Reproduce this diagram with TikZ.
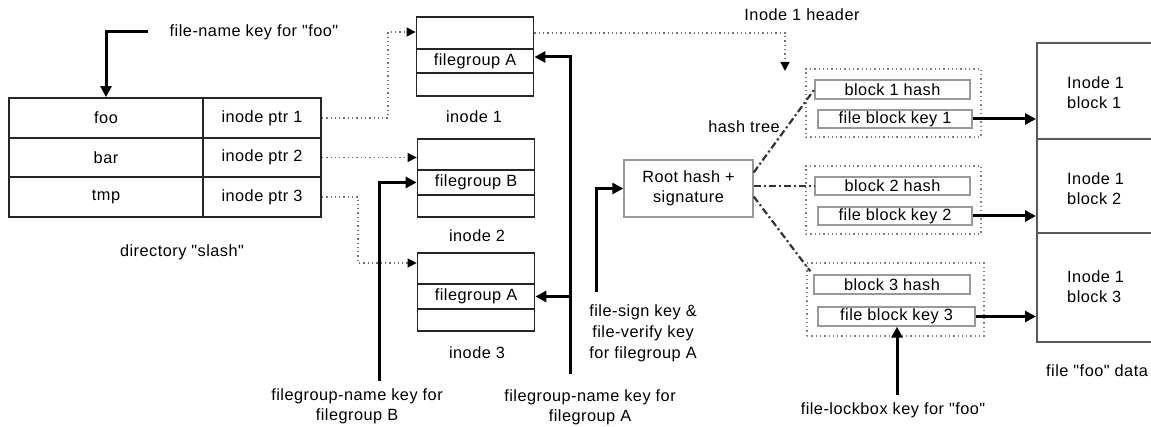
\documentclass[tikz,border=0pt]{standalone}
\usepackage{fontspec}
\setmainfont{Liberation Sans}[LetterSpace=3,Ligatures=TeXOff]
\usetikzlibrary{arrows.meta}
\begin{document}
\begin{tikzpicture}[x=1pt,y=-1pt,
  font=\fontsize{16.3}{20}\selectfont,
  cell/.style={draw=black!85, line width=1.8pt, inner sep=0pt},
  icell/.style={cell, minimum width=117pt},
  gbox/.style={draw=black!40, line width=1.4pt, inner sep=0pt},
  grp/.style={draw=black!50, line width=1.3pt, dash pattern=on 1.3pt off 3pt, inner sep=0pt},
  dbox/.style={draw=black!65, line width=2pt, inner sep=0pt, minimum width=133pt},
  lbl/.style={inner sep=0pt, align=center},
  karrow/.style={draw=black, line width=3pt, -{Triangle[length=11pt,width=11pt]}},
  darrow/.style={draw=black!55, line width=1.5pt, dash pattern=on 1.3pt off 3pt,
     -{Triangle[length=9pt,width=9pt,color=black]}},
  dashdot/.style={draw=black!80, line width=2.2pt, dash pattern=on 7pt off 3pt on 2pt off 3pt}
]
\useasboundingbox (0,0) rectangle (1151,427);

% directory table
\node[cell, minimum width=194pt, minimum height=40pt] (foo) at (106,118) {foo};
\node[cell, minimum width=194pt, minimum height=39pt] (bar) at (106,157.5) {bar};
\node[cell, minimum width=194pt, minimum height=40pt] (tmp) at (106,197) {tmp};
\node[cell, minimum width=118pt, minimum height=40pt] (ptr1) at (262,118) {inode ptr 1};
\node[cell, minimum width=118pt, minimum height=39pt] (ptr2) at (262,157.5) {inode ptr 2};
\node[cell, minimum width=118pt, minimum height=40pt] (ptr3) at (262,197) {inode ptr 3};
\node[lbl] (dirl) at (182,252) {directory "slash"};

% file-name key
\node[lbl] (fnl) at (254,32) {file-name key for "foo"};
\coordinate (fnk) at (148,32);
\draw[karrow] (fnk) -| (foo.north);

% inodes
\node[icell, minimum height=32pt] (i1a) at (475,33) {};
\node[icell, minimum height=24pt] (i1b) at (475,61) {filegroup A};
\node[icell, minimum height=23pt] (i1c) at (475,84.5) {};
\node[lbl] (i1l) at (474,117) {inode 1};

\node[icell, minimum height=31pt] (i2a) at (476,154.5) {};
\node[icell, minimum height=25pt] (i2b) at (476,182.5) {filegroup B};
\node[icell, minimum height=22pt] (i2c) at (476,206) {};
\node[lbl] (i2l) at (477,236) {inode 2};

\node[icell, minimum height=31pt] (i3a) at (476,268.5) {};
\node[icell, minimum height=25pt] (i3b) at (476,296.5) {filegroup A};
\node[icell, minimum height=22pt] (i3c) at (476,320) {};
\node[lbl] (i3l) at (477,353) {inode 3};

% dotted pointers
\coordinate (c1) at (388,32);
\coordinate (c3) at (358,263);
\draw[darrow] (ptr1.east) -| (c1) -- (c1 -| i1a.west);
\draw[darrow] (ptr2.east) -- (ptr2.east -| i2a.west);
\draw[darrow] (ptr3.east) -| (c3) -- (c3 -| i3a.west);

% filegroup keys
\node[lbl] (fgBl) at (357,406) {filegroup-name key for\\filegroup B};
\coordinate (fgB) at (379,381);
\draw[karrow] (fgB) |- (i2b.west);

\node[lbl] (fgAl) at (590,407) {filegroup-name key for\\filegroup A};
\coordinate (fgA) at (570,374);
\draw[karrow] (fgA) |- ([yshift=4pt]i1b.east);
\draw[karrow] (fgA |- i3b.east) -- (i3b.east);

% root hash
\node[gbox, minimum width=129pt, minimum height=57pt, align=center] (root) at (688.5,188.5) {Root hash +\\signature};
\node[lbl, align=center, font=\fontsize{16.3}{21}\selectfont] (fsl) at (643,333) {file-sign key \&\\file-verify key\\for filegroup A};
\coordinate (fs) at (596,292);
\draw[karrow] (fs) |- (root.west);

% inode 1 header
\node[lbl] (hdrl) at (802,15) {Inode 1 header};
\coordinate (hdr) at (785,71);
\draw[darrow] (i1a.east) -| (hdr);
\node[lbl] (htl) at (744,127) {hash tree};

% block groups
\node[grp, minimum width=175pt, minimum height=68pt] (g1) at (893.5,103) {};
\node[grp, minimum width=175pt, minimum height=68pt] (g2) at (893.5,200) {};
\node[grp, minimum width=177pt, minimum height=73pt] (g3) at (895.5,299.5) {};

\node[gbox, minimum width=155pt, minimum height=19pt] (bh1) at (892.5,89.5) {block 1 hash};
\node[gbox, minimum width=154pt, minimum height=18pt] (fbk1) at (895,119) {file block key 1};
\node[gbox, minimum width=155pt, minimum height=18pt] (bh2) at (892.5,186) {block 2 hash};
\node[gbox, minimum width=154pt, minimum height=18pt] (fbk2) at (895,216) {file block key 2};
\node[gbox, minimum width=156pt, minimum height=19pt] (bh3) at (892,284.5) {block 3 hash};
\node[gbox, minimum width=157pt, minimum height=19pt] (fbk3) at (896.5,316.5) {file block key 3};

% hash tree lines
\draw[dashdot] ([yshift=16pt]root.east) -- (bh1.west);
\draw[dashdot] (root.east |- bh2.west) -- (bh2.west);
\draw[dashdot] ([yshift=-8pt]root.east) -- ([xshift=-3pt,yshift=3pt]bh3.north west);

% data blocks
\node[dbox, minimum height=96pt] (d1) at (1103.5,91) {};
\node[dbox, minimum height=94pt] (d2) at (1103.5,186) {};
\node[dbox, minimum height=109pt] (d3) at (1103.5,287.5) {};
\node[lbl, align=left, anchor=west] (d1t) at (1067,92.5) {Inode 1\\block 1};
\node[lbl, align=left, anchor=west] (d2t) at (1067,188.5) {Inode 1\\block 2};
\node[lbl, align=left, anchor=west] (d3t) at (1067,287) {Inode 1\\block 3};
\node[lbl] (datal) at (1097,371) {file "foo" data};

\draw[karrow] (fbk1.east) -- (fbk1.east -| d1.west);
\draw[karrow] (fbk2.east) -- (fbk2.east -| d2.west);
\draw[karrow] (fbk3.east) -- (fbk3.east -| d3.west);

% lockbox key
\node[lbl] (lbl) at (893,410) {file-lockbox key for "foo"};
\coordinate (lb) at (897,395);
\draw[karrow] (lb) -- (lb |- fbk3.south);
\end{tikzpicture}
\end{document}
